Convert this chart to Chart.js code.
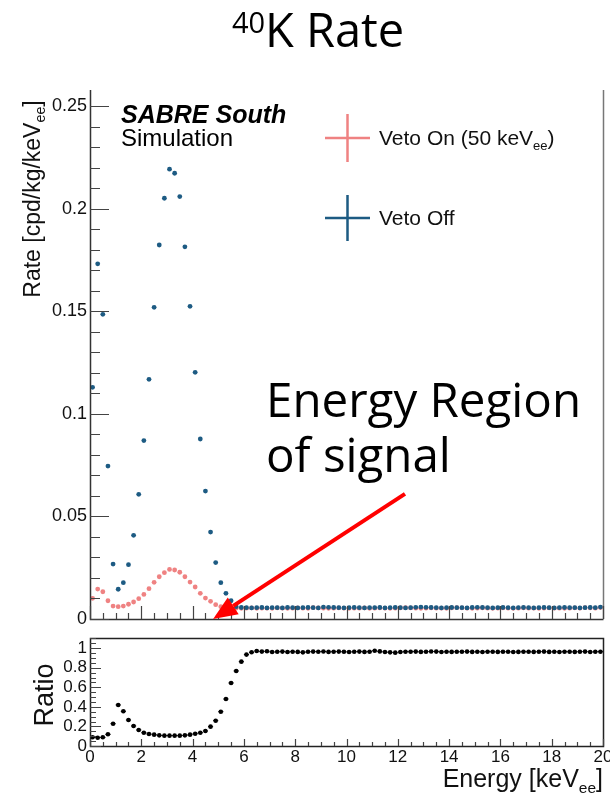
<!DOCTYPE html>
<html>
<head>
<meta charset="utf-8">
<script src="https://cdn.jsdelivr.net/npm/chart.js@4.4.1/dist/chart.umd.min.js"></script>
<style>
  html, body { margin: 0; padding: 0; background: #fff; }
  #wrap { position: relative; width: 610px; height: 797px; overflow: hidden; }
  canvas { position: absolute; left: 0; }
  #rateChart { top: 0; }
  #ratioChart { top: 630px; }
</style>
</head>
<body>
<div id="wrap">
  <canvas id="rateChart" width="610" height="630"></canvas>
  <canvas id="ratioChart" width="610" height="167"></canvas>
</div>
<script>
// histogram binning: 100 bins of 0.2 keV between 0 and 20 keV
const binCenters = Array.from({ length: 100 }, (_, i) => Math.round((0.1 + 0.2 * i) * 10) / 10);

// Veto Off rate [cpd/kg/keVee]
const vetoOff = [
  0.1130, 0.1732, 0.1486, 0.0746, 0.0268, 0.0145, 0.0177, 0.0265, 0.0408, 0.0608,
  0.0870, 0.1169, 0.1520, 0.1824, 0.2052, 0.2194, 0.2174, 0.2060, 0.1815, 0.1525,
  0.1203, 0.0878, 0.0624, 0.0424, 0.0275, 0.0177, 0.0125, 0.0089, 0.0060,
  0.0056, 0.0055, 0.0054, 0.0055, 0.0056, 0.0054, 0.0055, 0.0055, 0.0054, 0.0056,
  0.0055, 0.0054, 0.0055, 0.0056, 0.0055, 0.0054, 0.0058, 0.0057, 0.0056, 0.0055,
  0.0054, 0.0055, 0.0056, 0.0055, 0.0054, 0.0055, 0.0055, 0.0056, 0.0054, 0.0055,
  0.0056, 0.0055, 0.0054, 0.0055, 0.0057, 0.0058, 0.0057, 0.0056, 0.0055, 0.0054,
  0.0055, 0.0056, 0.0055, 0.0055, 0.0054, 0.0056, 0.0057, 0.0056, 0.0055, 0.0054,
  0.0055, 0.0056, 0.0055, 0.0054, 0.0055, 0.0056, 0.0055, 0.0054, 0.0055, 0.0056,
  0.0055, 0.0054, 0.0055, 0.0056, 0.0055, 0.0055, 0.0054, 0.0055, 0.0056, 0.0055,
  0.0058
];

// Veto On (50 keVee) rate
const vetoOn = [
  0.0101, 0.0146, 0.0133, 0.0089, 0.0063, 0.0060, 0.0063, 0.0072, 0.0083, 0.0099,
  0.0120, 0.0148, 0.0179, 0.0206, 0.0226, 0.0242, 0.0239, 0.0228, 0.0206, 0.0180,
  0.0156, 0.0125, 0.0102, 0.0086, 0.0070, 0.0060, 0.0055,
  0.0054, 0.0053, 0.0052, 0.0053, 0.0054, 0.0052, 0.0053, 0.0053, 0.0052, 0.0054,
  0.0053, 0.0052, 0.0053, 0.0054, 0.0053, 0.0052, 0.0055, 0.0054, 0.0053, 0.0052,
  0.0053, 0.0054, 0.0053, 0.0052, 0.0053, 0.0053, 0.0054, 0.0052, 0.0053, 0.0054,
  0.0053, 0.0052, 0.0053, 0.0054, 0.0055, 0.0054, 0.0053, 0.0052, 0.0053, 0.0054,
  0.0053, 0.0053, 0.0052, 0.0054, 0.0055, 0.0054, 0.0053, 0.0052, 0.0053, 0.0054,
  0.0053, 0.0052, 0.0053, 0.0054, 0.0053, 0.0052, 0.0053, 0.0054, 0.0053, 0.0053,
  0.0052, 0.0053, 0.0054, 0.0053, 0.0053, 0.0052, 0.0053, 0.0054, 0.0053, 0.0055,
  0.0054, 0.0053, 0.0056
];

// Veto On / Veto Off
const ratio = [
  0.089, 0.085, 0.089, 0.120, 0.228, 0.420, 0.355, 0.266, 0.205, 0.164,
  0.136, 0.123, 0.116, 0.109, 0.106, 0.106, 0.106, 0.106, 0.109, 0.116,
  0.126, 0.136, 0.154, 0.198, 0.259, 0.351, 0.481, 0.645, 0.768, 0.863,
  0.935, 0.959, 0.972,
  0.966, 0.970, 0.961, 0.964, 0.966, 0.962, 0.965, 0.963, 0.958, 0.964,
  0.966, 0.965, 0.967, 0.963, 0.965, 0.966, 0.964, 0.962, 0.965, 0.966,
  0.963, 0.965, 0.975, 0.968, 0.962, 0.958, 0.955, 0.962, 0.965, 0.964,
  0.966, 0.963, 0.965, 0.967, 0.966, 0.962, 0.964, 0.963, 0.965, 0.964,
  0.966, 0.963, 0.964, 0.962, 0.965, 0.964, 0.963, 0.965, 0.964, 0.962,
  0.963, 0.965, 0.964, 0.963, 0.965, 0.966, 0.963, 0.964, 0.962, 0.965,
  0.964, 0.963, 0.965, 0.966, 0.962, 0.964, 0.965
];

const rateTicks = [0, 0.05, 0.1, 0.15, 0.2, 0.25];
const rateTickLabels = ['0', '0.05', '0.1', '0.15', '0.2', '0.25'];
const ratioTicks = [0, 0.2, 0.4, 0.6, 0.8, 1];
const ratioTickLabels = ['0', '0.2', '0.4', '0.6', '0.8', '1'];
const energyTicks = [0, 2, 4, 6, 8, 10, 12, 14, 16, 18, 20];

const BLUE = '#1d5b83';
const RED = '#ef8282';
const ROOT_FONT = '"Liberation Sans", Arial, sans-serif';
const SANS = '"Open Sans", "Noto Sans", sans-serif';

function toPoints(vals) {
  return vals.map((v, i) => ({ x: binCenters[i], y: v }));
}

// text with sub/superscript pieces: parts = [[text, 'n'|'sub'|'sup'], ...]
function richWidth(ctx, parts, size, weight) {
  let w = 0;
  parts.forEach(([t, k]) => {
    const s = k === 'n' ? size : size * 0.62;
    ctx.font = (weight || '') + ' ' + s + 'px ' + ROOT_FONT;
    w += ctx.measureText(t).width;
  });
  return w;
}
function drawRich(ctx, parts, x, y, size, weight) {
  let cx = x;
  ctx.textAlign = 'left';
  ctx.textBaseline = 'alphabetic';
  parts.forEach(([t, k]) => {
    const s = k === 'n' ? size : size * 0.62;
    ctx.font = (weight || '') + ' ' + s + 'px ' + ROOT_FONT;
    const dy = k === 'sub' ? size * 0.22 : (k === 'sup' ? -size * 0.4 : 0);
    ctx.fillText(t, cx, y + dy);
    cx += ctx.measureText(t).width;
  });
}

// inward ROOT style ticks
function xTicksUp(ctx, chart, major, minorStep, majLen, minLen) {
  const xs = chart.scales.x, a = chart.chartArea;
  ctx.beginPath();
  for (let v = xs.min; v <= xs.max + 1e-9; v += minorStep) {
    const isMaj = major.some(m => Math.abs(m - v) < 1e-6);
    const px = Math.round(xs.getPixelForValue(v)) + 0.5;
    ctx.moveTo(px, a.bottom);
    ctx.lineTo(px, a.bottom - (isMaj ? majLen : minLen));
  }
  ctx.stroke();
}
function yTicksRight(ctx, chart, major, minorStep, top, majLen, minLen) {
  const ys = chart.scales.y, a = chart.chartArea;
  ctx.beginPath();
  for (let v = 0; v <= top + 1e-9; v += minorStep) {
    const isMaj = major.some(m => Math.abs(m - v) < 1e-6);
    const py = Math.round(ys.getPixelForValue(v)) + 0.5;
    ctx.moveTo(a.left, py);
    ctx.lineTo(a.left + (isMaj ? majLen : minLen), py);
  }
  ctx.stroke();
}

const ratePlugin = {
  id: 'ratePlugin',
  afterDraw(chart) {
    const ctx = chart.ctx, a = chart.chartArea;
    const xs = chart.scales.x, ys = chart.scales.y;
    ctx.save();

    // frame
    ctx.strokeStyle = '#333';
    ctx.lineWidth = 1.5;
    ctx.beginPath();
    ctx.moveTo(a.left + 0.5, a.top);
    ctx.lineTo(a.left + 0.5, a.bottom + 0.5);
    ctx.lineTo(a.right + 0.5, a.bottom + 0.5);
    ctx.stroke();
    ctx.strokeStyle = '#777';
    ctx.beginPath();
    ctx.moveTo(a.right + 0.5, a.top);
    ctx.lineTo(a.right + 0.5, a.bottom);
    ctx.stroke();

    ctx.strokeStyle = '#444';
    ctx.lineWidth = 1.2;
    xTicksUp(ctx, chart, energyTicks, 0.5, 13, 6);
    yTicksRight(ctx, chart, rateTicks, 0.01, 0.25, 19, 10);

    // y tick labels
    ctx.fillStyle = '#111';
    ctx.font = '18px ' + ROOT_FONT;
    ctx.textAlign = 'right';
    ctx.textBaseline = 'middle';
    rateTicks.forEach((v, i) => ctx.fillText(rateTickLabels[i], 87, ys.getPixelForValue(v)));

    // y axis title
    const yt = [['Rate [cpd/kg/keV', 'n'], ['ee', 'sub'], [']', 'n']];
    const w = richWidth(ctx, yt, 23);
    ctx.save();
    ctx.translate(40, 199);
    ctx.rotate(-Math.PI / 2);
    drawRich(ctx, yt, -w / 2, 0, 23);
    ctx.restore();

    // SABRE South label
    ctx.fillStyle = '#000';
    ctx.textAlign = 'left';
    ctx.textBaseline = 'alphabetic';
    ctx.font = 'italic bold 25px ' + ROOT_FONT;
    ctx.fillText('SABRE South', 121, 123);
    ctx.font = '24px ' + ROOT_FONT;
    ctx.fillText('Simulation', 121, 146);

    // legend
    const crosses = [[RED, 138, 24, [['Veto On (50 keV', 'n'], ['ee', 'sub'], [')', 'n']]],
                     [BLUE, 218, 23, [['Veto Off', 'n']]]];
    crosses.forEach(([col, cy, hh, txt]) => {
      ctx.strokeStyle = col;
      ctx.lineWidth = 2.5;
      ctx.beginPath();
      ctx.moveTo(325, cy); ctx.lineTo(370, cy);
      ctx.moveTo(347.5, cy - hh); ctx.lineTo(347.5, cy + hh);
      ctx.stroke();
      ctx.fillStyle = '#111';
      drawRich(ctx, txt, 379, cy + 7, 21);
    });

    // title
    ctx.fillStyle = '#000';
    ctx.font = '29px ' + SANS;
    ctx.fillText('40', 232, 33);
    ctx.font = '47px ' + SANS;
    ctx.fillText('K Rate', 265, 47);

    // annotation
    ctx.font = '47.5px ' + SANS;
    ctx.fillText('Energy Region', 266, 417);
    ctx.fillText('of signal', 266, 472);

    // arrow
    const x0 = xs.getPixelForValue(12.28), y0 = ys.getPixelForValue(0.061);
    const x1 = xs.getPixelForValue(4.8), y1 = ys.getPixelForValue(0);
    const ang = Math.atan2(y1 - y0, x1 - x0);
    const hl = 24, hw = 10;
    const bx = x1 - hl * Math.cos(ang), by = y1 - hl * Math.sin(ang);
    ctx.strokeStyle = '#ff0000';
    ctx.fillStyle = '#ff0000';
    ctx.lineWidth = 4;
    ctx.beginPath();
    ctx.moveTo(x0, y0);
    ctx.lineTo(bx, by);
    ctx.stroke();
    ctx.beginPath();
    ctx.moveTo(x1, y1);
    ctx.lineTo(bx + hw * Math.sin(ang), by - hw * Math.cos(ang));
    ctx.lineTo(bx - hw * Math.sin(ang), by + hw * Math.cos(ang));
    ctx.closePath();
    ctx.fill();

    ctx.restore();
  }
};

const ratioPlugin = {
  id: 'ratioPlugin',
  beforeDatasetsDraw(chart) {
    // bin width and small error bars
    const ctx = chart.ctx, xs = chart.scales.x, ys = chart.scales.y;
    ctx.save();
    ctx.strokeStyle = '#000';
    ctx.lineWidth = 1;
    ctx.beginPath();
    ratio.forEach((r, i) => {
      const c = binCenters[i], py = ys.getPixelForValue(r), px = xs.getPixelForValue(c);
      ctx.moveTo(xs.getPixelForValue(c - 0.1), py);
      ctx.lineTo(xs.getPixelForValue(c + 0.1), py);
      ctx.moveTo(px, ys.getPixelForValue(r - 0.014));
      ctx.lineTo(px, ys.getPixelForValue(r + 0.014));
    });
    ctx.stroke();
    ctx.restore();
  },
  afterDraw(chart) {
    const ctx = chart.ctx, a = chart.chartArea;
    const xs = chart.scales.x, ys = chart.scales.y;
    ctx.save();
    ctx.strokeStyle = '#222';
    ctx.lineWidth = 1.5;
    ctx.strokeRect(a.left + 0.5, a.top + 0.5, a.right - a.left, a.bottom - a.top);

    ctx.strokeStyle = '#444';
    ctx.lineWidth = 1.2;
    xTicksUp(ctx, chart, energyTicks, 0.5, 7, 4);
    yTicksRight(ctx, chart, ratioTicks, 0.05, 1.1, 11, 6);

    ctx.fillStyle = '#111';
    ctx.font = '17px ' + ROOT_FONT;
    ctx.textAlign = 'right';
    ctx.textBaseline = 'middle';
    ratioTicks.forEach((v, i) => ctx.fillText(ratioTickLabels[i], 87, ys.getPixelForValue(v)));
    ctx.textAlign = 'center';
    ctx.textBaseline = 'top';
    energyTicks.forEach(v => ctx.fillText(String(v), xs.getPixelForValue(v), a.bottom + 3));

    ctx.save();
    ctx.translate(46, 65);
    ctx.rotate(-Math.PI / 2);
    ctx.font = '27px ' + ROOT_FONT;
    ctx.textAlign = 'center';
    ctx.textBaseline = 'middle';
    ctx.fillText('Ratio', 0, 0);
    ctx.restore();

    const et = [['Energy [keV', 'n'], ['ee', 'sub'], [']', 'n']];
    const w = richWidth(ctx, et, 25);
    drawRich(ctx, et, a.right - w, 157, 25);
    ctx.restore();
  }
};

const rateChart = new Chart(document.getElementById('rateChart'), {
  type: 'scatter',
  data: {
    datasets: [{
      label: 'Veto On (50 keVee)',
      data: toPoints(vetoOn),
      backgroundColor: RED,
      pointRadius: 2.4,
      borderWidth: 0,
      order: 2
    }, {
      label: 'Veto Off',
      data: toPoints(vetoOff),
      backgroundColor: BLUE,
      pointRadius: 2.4,
      borderWidth: 0,
      order: 1
    }]
  },
  options: {
    responsive: false,
    animation: false,
    devicePixelRatio: 1,
    layout: { padding: { left: 90, right: 7, top: 90, bottom: 11 } },
    plugins: { legend: { display: false }, tooltip: { enabled: false } },
    scales: {
      x: { type: 'linear', min: 0, max: 20, display: false },
      y: { type: 'linear', min: 0, max: 0.258, display: false }
    }
  },
  plugins: [ratePlugin]
});

const ratioChart = new Chart(document.getElementById('ratioChart'), {
  type: 'scatter',
  data: {
    datasets: [{
      label: 'Ratio',
      data: toPoints(ratio),
      backgroundColor: '#000',
      pointRadius: 2.3,
      borderWidth: 0
    }]
  },
  options: {
    responsive: false,
    animation: false,
    devicePixelRatio: 1,
    layout: { padding: { left: 90, right: 7, top: 8, bottom: 51 } },
    plugins: { legend: { display: false }, tooltip: { enabled: false } },
    scales: {
      x: { type: 'linear', min: 0, max: 20, display: false },
      y: { type: 'linear', min: 0, max: 1.105, display: false }
    }
  },
  plugins: [ratioPlugin]
});
</script>
</body>
</html>
